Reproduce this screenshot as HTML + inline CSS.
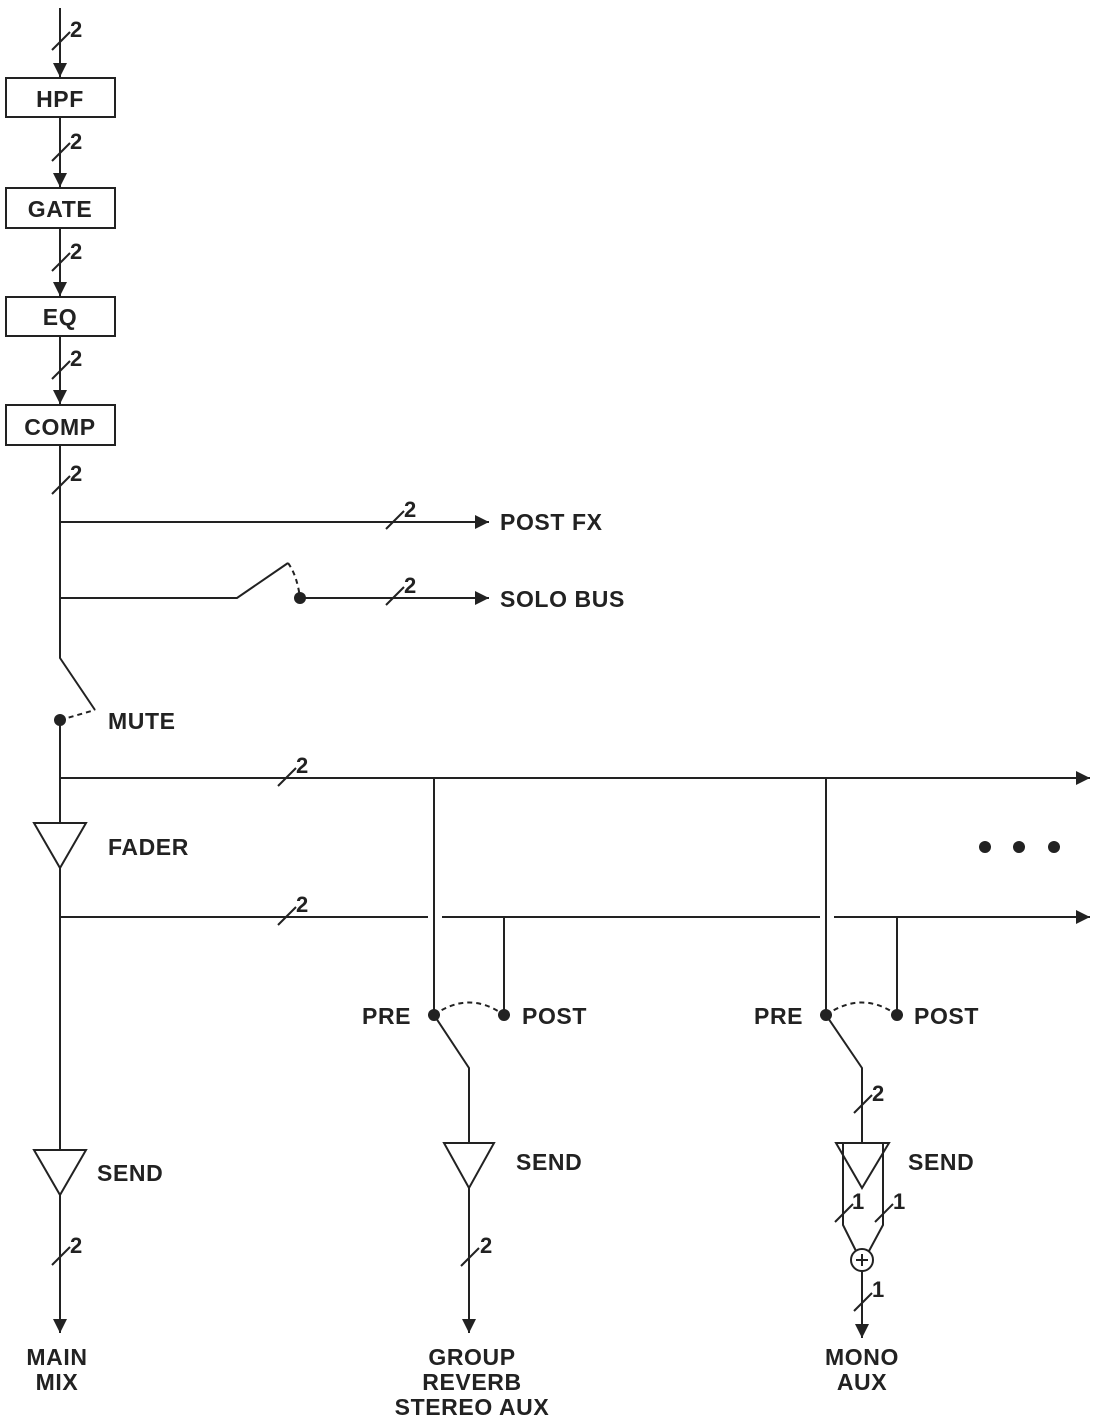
<!DOCTYPE html>
<html><head><meta charset="utf-8"><style>
html,body{margin:0;padding:0;background:#fff;}
svg{display:block;}
text{font-family:"Liberation Sans",sans-serif;font-weight:bold;fill:#222;}
</style></head><body>
<svg width="1095" height="1418" viewBox="0 0 1095 1418" xmlns="http://www.w3.org/2000/svg">
<defs>
<marker id="a" viewBox="0 0 10 10" refX="10" refY="5" markerWidth="14" markerHeight="14" markerUnits="userSpaceOnUse" orient="auto"><path d="M0,0 L10,5 L0,10 z" fill="#222"/></marker>
</defs>
<g stroke="#222" stroke-width="2" fill="none">
<line x1="60" y1="8" x2="60" y2="77" marker-end="url(#a)"/>
<rect x="6" y="78" width="109" height="39"/>
<line x1="60" y1="117" x2="60" y2="187" marker-end="url(#a)"/>
<rect x="6" y="188" width="109" height="40"/>
<line x1="60" y1="228" x2="60" y2="296" marker-end="url(#a)"/>
<rect x="6" y="297" width="109" height="39"/>
<line x1="60" y1="336" x2="60" y2="404" marker-end="url(#a)"/>
<rect x="6" y="405" width="109" height="40"/>
<line x1="52" y1="50" x2="70" y2="32"/>
<line x1="52" y1="161" x2="70" y2="143"/>
<line x1="52" y1="271" x2="70" y2="253"/>
<line x1="52" y1="379" x2="70" y2="361"/>
<line x1="52" y1="494" x2="70" y2="476"/>
<polyline points="60,445 60,658 95,710"/>
<path d="M60,720 L95,710" stroke-dasharray="5,4"/>
<line x1="60" y1="720" x2="60" y2="823"/>
<line x1="60" y1="868" x2="60" y2="1150"/>
<line x1="60" y1="1195" x2="60" y2="1333" marker-end="url(#a)"/>
<line x1="52" y1="1265" x2="70" y2="1247"/>
<line x1="60" y1="522" x2="489" y2="522" marker-end="url(#a)"/>
<line x1="386" y1="529" x2="404" y2="511"/>
<polyline points="60,598 237,598 288,563"/>
<path d="M288,563 Q297,575 300,598" stroke-dasharray="5,4"/>
<line x1="300" y1="598" x2="489" y2="598" marker-end="url(#a)"/>
<line x1="386" y1="605" x2="404" y2="587"/>
<line x1="60" y1="778" x2="1090" y2="778" marker-end="url(#a)"/>
<line x1="278" y1="786" x2="296" y2="768"/>
<line x1="60" y1="917" x2="428" y2="917"/>
<line x1="442" y1="917" x2="820" y2="917"/>
<line x1="834" y1="917" x2="1090" y2="917" marker-end="url(#a)"/>
<line x1="278" y1="925" x2="296" y2="907"/>
<polygon points="34,823 86,823 60,868"/>
<polygon points="34,1150 86,1150 60,1195"/>
<line x1="434" y1="778" x2="434" y2="1015"/>
<line x1="504" y1="917" x2="504" y2="1015"/>
<path d="M434,1015 Q469,990 504,1015" stroke-dasharray="5,4"/>
<polyline points="434,1015 469,1068 469,1143"/>
<polygon points="444,1143 494,1143 469,1188"/>
<line x1="469" y1="1188" x2="469" y2="1333" marker-end="url(#a)"/>
<line x1="461" y1="1266" x2="479" y2="1248"/>
<line x1="826" y1="778" x2="826" y2="1015"/>
<line x1="897" y1="917" x2="897" y2="1015"/>
<path d="M826,1015 Q862,990 897,1015" stroke-dasharray="5,4"/>
<polyline points="826,1015 862,1068 862,1143"/>
<line x1="854" y1="1113" x2="872" y2="1095"/>
<polygon points="836,1143 889,1143 862,1188"/>
<polyline points="843,1143 843,1225 856,1251"/>
<polyline points="883,1143 883,1225 869,1251"/>
<line x1="835" y1="1222" x2="853" y2="1204"/>
<line x1="875" y1="1222" x2="893" y2="1204"/>
<circle cx="862" cy="1260" r="11"/>
<line x1="856" y1="1260" x2="868" y2="1260"/>
<line x1="862" y1="1254" x2="862" y2="1266"/>
<line x1="862" y1="1271" x2="862" y2="1338" marker-end="url(#a)"/>
<line x1="854" y1="1311" x2="872" y2="1293"/>
</g>
<g fill="#222">
<circle cx="300" cy="598" r="6"/>
<circle cx="60" cy="720" r="6"/>
<circle cx="434" cy="1015" r="6"/>
<circle cx="504" cy="1015" r="6"/>
<circle cx="826" cy="1015" r="6"/>
<circle cx="897" cy="1015" r="6"/>
<circle cx="985" cy="847" r="6"/>
<circle cx="1019" cy="847" r="6"/>
<circle cx="1054" cy="847" r="6"/>
</g>
<g font-size="23" letter-spacing="0.6" text-anchor="middle">
<text x="60" y="107">HPF</text>
<text x="60" y="217">GATE</text>
<text x="60" y="325">EQ</text>
<text x="60" y="435">COMP</text>
<text x="57" y="1365">MAIN</text>
<text x="57" y="1390">MIX</text>
<text x="472" y="1365">GROUP</text>
<text x="472" y="1390">REVERB</text>
<text x="472" y="1415">STEREO AUX</text>
<text x="862" y="1365">MONO</text>
<text x="862" y="1390">AUX</text>
</g>
<g font-size="22">
<text x="70" y="37">2</text>
<text x="70" y="149">2</text>
<text x="70" y="259">2</text>
<text x="70" y="366">2</text>
<text x="70" y="481">2</text>
<text x="70" y="1253">2</text>
<text x="404" y="517">2</text>
<text x="404" y="593">2</text>
<text x="296" y="773">2</text>
<text x="296" y="912">2</text>
<text x="480" y="1253">2</text>
<text x="872" y="1101">2</text>
<text x="852" y="1209">1</text>
<text x="893" y="1209">1</text>
<text x="872" y="1297">1</text>
</g>
<g font-size="23" letter-spacing="0.6">
<text x="500" y="530">POST FX</text>
<text x="500" y="607">SOLO BUS</text>
<text x="108" y="729">MUTE</text>
<text x="108" y="855">FADER</text>
<text x="97" y="1181">SEND</text>
<text x="516" y="1170">SEND</text>
<text x="908" y="1170">SEND</text>
<text x="362" y="1024">PRE</text>
<text x="522" y="1024">POST</text>
<text x="754" y="1024">PRE</text>
<text x="914" y="1024">POST</text>
</g>
</svg>
</body></html>
